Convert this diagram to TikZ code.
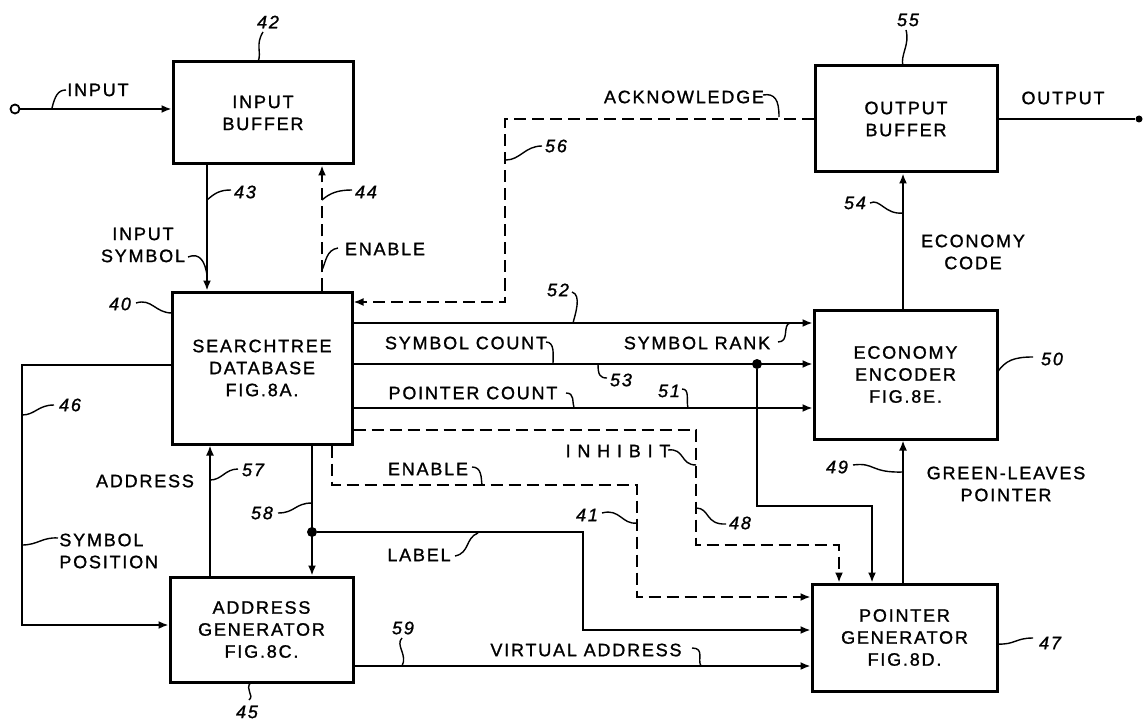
\documentclass[tikz,border=0pt]{standalone}
\usepackage{fontspec}
\setmainfont{Liberation Sans}[LetterSpace=10,FakeBold=1.2]
\usetikzlibrary{arrows.meta}

\begin{document}
\begin{tikzpicture}[x=0.5pt,y=-0.5pt,
		every node/.style={font=\fontsize{9}{11}\selectfont, inner sep=0pt, align=center},
		box/.style={draw, line width=1.5pt},
		arr/.style={line width=0.9pt, -{Latex[length=5pt,width=4pt]}},
		wire/.style={line width=0.9pt},
		dashline/.style={dash pattern=on 6pt off 3pt},
		leader/.style={line width=0.7pt},
		num/.style={font=\fontsize{9}{11}\selectfont\itshape},
		dot/.style={circle, fill, minimum size=5pt}]
		\useasboundingbox (0,0) rectangle (1143,721);
		% blocks
		\node [box, minimum width=90pt, minimum height=51pt] (inbuf) at (263,113) {INPUT\\BUFFER};
		\node [box, minimum width=91pt, minimum height=53pt] (outbuf) at (906,119) {OUTPUT\\BUFFER};
		\node [box, minimum width=90pt, minimum height=76pt] (search) at (262,368) {SEARCHTREE\\DATABASE\\FIG.8A.};
		\node [box, minimum width=91.5pt, minimum height=64.5pt] (encoder) at (905.5,374.5) {ECONOMY\\ENCODER\\FIG.8E.};
		\node [box, minimum width=91.5pt, minimum height=52.5pt] (addrgen) at (261.5,629.5) {ADDRESS\\GENERATOR\\FIG.8C.};
		\node [box, minimum width=92.5pt, minimum height=53.5pt] (ptrgen) at (904.5,637.5) {POINTER\\GENERATOR\\FIG.8D.};
		% terminals and junctions
		\node [draw, circle, line width=0.9pt, minimum size=4.5pt] (inpin) at (15,109) {};
		\node [dot, minimum size=3.5pt] (outpin) at (1139,119) {};
		\node [dot] (j53) at (757,364) {};
		\node [dot] (j58) at (312,532) {};
		% line positions
		\coordinate (c43) at (207,0);
		\coordinate (c44) at (322,0);
		\coordinate (c56) at (505,0);
		\coordinate (r56) at (0,302);
		\coordinate (r52) at (0,323);
		\coordinate (r53) at (0,364);
		\coordinate (r51) at (0,408);
		\coordinate (r53b) at (0,506);
		\coordinate (c53b) at (872,0);
		\coordinate (r48) at (0,430);
		\coordinate (c48) at (696,0);
		\coordinate (r48b) at (0,545);
		\coordinate (c48b) at (839,0);
		\coordinate (c41) at (332,0);
		\coordinate (r41) at (0,485);
		\coordinate (c41b) at (637,0);
		\coordinate (r41b) at (0,597);
		\coordinate (r46) at (0,365);
		\coordinate (c46) at (22,0);
		\coordinate (r46b) at (0,625);
		\coordinate (c57) at (210,0);
		\coordinate (c58) at (312,0);
		\coordinate (c58b) at (583,0);
		\coordinate (r58) at (0,630);
		\coordinate (r59) at (0,666);
		\coordinate (c49) at (903,0);
		% connectors
		\draw [arr] (inpin.east |- 0,109) -- (inbuf.west |- 0,109);
		\draw [wire] (outbuf.east) -- (outpin);
		\draw [arr] (inbuf.south -| c43) -- (search.north -| c43);
		\draw [arr, dashline] (search.north -| c44) -- (inbuf.south -| c44);
		\draw [arr, dashline] (outbuf.west) -- (outbuf.west -| c56) -- (c56 |- r56) -- (search.east |- r56);
		\draw [arr] (encoder.north -| c49) -- (outbuf.south -| c49);
		\draw [arr] (search.east |- r52) -- (encoder.west |- r52);
		\draw [arr] (search.east |- r53) -- (encoder.west |- r53);
		\draw [arr] (search.east |- r51) -- (encoder.west |- r51);
		\draw [arr] (j53) |- (c53b |- r53b) -- (ptrgen.north -| c53b);
		\draw [arr, dashline] (search.east |- r48) -| (c48 |- r48b) -| (ptrgen.north -| c48b);
		\draw [arr, dashline] (search.south -| c41) |- (c41b |- r41) |- (ptrgen.west |- r41b);
		\draw [arr] (search.west |- r46) -| (c46 |- r46b) -- (addrgen.west |- r46b);
		\draw [arr] (addrgen.north -| c57) -- (search.south -| c57);
		\draw [arr] (search.south -| c58) -- (addrgen.north -| c58);
		\draw [arr] (j58) -| (c58b |- r58) -- (ptrgen.west |- r58);
		\draw [arr] (addrgen.east |- r59) -- (ptrgen.west |- r59);
		\draw [arr] (ptrgen.north -| c49) -- (encoder.south -| c49);
		% signal names
		\node (tinput) at (98,90) {INPUT};
		\node (tinsym) at (143,245) {INPUT\\SYMBOL};
		\node (tenable) at (385,249) {ENABLE};
		\node (tack) at (684,97) {ACKNOWLEDGE};
		\node (toutput) at (1063,98) {OUTPUT};
		\node (tecode) at (973,252) {ECONOMY\\CODE};
		\node (tsymrank) at (697,343) {SYMBOL RANK};
		\node (tsymcount) at (466,343) {SYMBOL COUNT};
		\node (tptrcount) at (473,393) {POINTER COUNT};
		\node (tinhibit) at (618,451) {I N H I B I T};
		\node (tenable2) at (428,469) {ENABLE};
		\node [align=left, anchor=west] (tsympos) at (59,551) {SYMBOL\\POSITION};
		\node (taddress) at (145,481) {ADDRESS};
		\node (tlabel) at (419,555) {LABEL};
		\node (tvaddr) at (586,650) {VIRTUAL ADDRESS};
		\node (tgreen) at (1006,484) {GREEN-LEAVES\\POINTER};
		% reference numerals
		\node [num] (n42) at (268,22) {42};
		\node [num] (n43) at (245,192) {43};
		\node [num] (n44) at (366,192) {44};
		\node [num] (n56) at (556,146) {56};
		\node [num] (n55) at (908,20) {55};
		\node [num] (n54) at (855,203) {54};
		\node [num] (n52) at (558,290) {52};
		\node [num] (n53) at (621,380) {53};
		\node [num] (n51) at (669,391) {51};
		\node [num] (n48) at (740,523) {48};
		\node [num] (n41) at (587,515) {41};
		\node [num] (n40) at (120,304) {40};
		\node [num] (n46) at (70,405) {46};
		\node [num] (n57) at (253,470) {57};
		\node [num] (n58) at (262,513) {58};
		\node [num] (n59) at (403,628) {59};
		\node [num] (n49) at (837,467) {49};
		\node [num] (n50) at (1052,359) {50};
		\node [num] (n47) at (1050,643) {47};
		\node [num] (n45) at (247,712) {45};
		% leaders
		\draw [leader] (52,108) .. controls (55,96) and (58,90) .. (66,90);
		\draw [leader] (188,257) .. controls (200,252) and (205,262) .. (207,275);
		\draw [leader] (322,270) .. controls (326,262) and (326,250) .. (338,248);
		\draw [leader] (763,95) .. controls (775,93) and (779,100) .. (779,117);
		\draw [leader] (258,62) .. controls (262,52) and (255,45) .. (263,32);
		\draw [leader] (207,200) .. controls (215,193) and (220,190) .. (231,190);
		\draw [leader] (322,200) .. controls (330,193) and (338,190) .. (352,190);
		\draw [leader] (506,160) .. controls (520,160) and (525,146) .. (542,146);
		\draw [leader] (903,66) .. controls (900,55) and (910,45) .. (906,30);
		\draw [leader] (870,203) .. controls (880,198) and (885,215) .. (903,213);
		\draw [leader] (572,292) .. controls (582,295) and (575,315) .. (573,323);
		\draw [leader] (546,342) .. controls (555,342) and (553,355) .. (553,364);
		\draw [leader] (778,342) .. controls (790,342) and (782,325) .. (790,323);
		\draw [leader] (598,364) .. controls (598,375) and (600,378) .. (607,378);
		\draw [leader] (566,393) .. controls (575,393) and (572,402) .. (574,408);
		\draw [leader] (682,389) .. controls (690,389) and (686,400) .. (688,408);
		\draw [leader] (668,450) .. controls (685,448) and (680,465) .. (696,465);
		\draw [leader] (696,508) .. controls (710,508) and (705,525) .. (726,524);
		\draw [leader] (472,467) .. controls (482,467) and (481,478) .. (482,485);
		\draw [leader] (602,513) .. controls (620,508) and (622,525) .. (637,523);
		\draw [leader] (136,303) .. controls (152,298) and (155,313) .. (172,313);
		\draw [leader] (22,415) .. controls (35,415) and (38,405) .. (54,405);
		\draw [leader] (22,545) .. controls (38,545) and (42,537) .. (58,538);
		\draw [leader] (210,480) .. controls (222,480) and (225,469) .. (238,469);
		\draw [leader] (278,513) .. controls (295,513) and (295,503) .. (312,503);
		\draw [leader] (455,556) .. controls (470,553) and (465,538) .. (478,533);
		\draw [leader] (402,638) .. controls (395,645) and (408,655) .. (402,666);
		\draw [leader] (692,648) .. controls (705,648) and (697,660) .. (701,666);
		\draw [leader] (853,465) .. controls (875,462) and (870,473) .. (903,472);
		\draw [leader] (997,373) .. controls (1005,360) and (1015,357) .. (1033,357);
		\draw [leader] (997,644) .. controls (1015,645) and (1015,638) .. (1033,638);
		\draw [leader] (251,682) .. controls (244,690) and (255,695) .. (249,700);
\end{tikzpicture}
\end{document}
